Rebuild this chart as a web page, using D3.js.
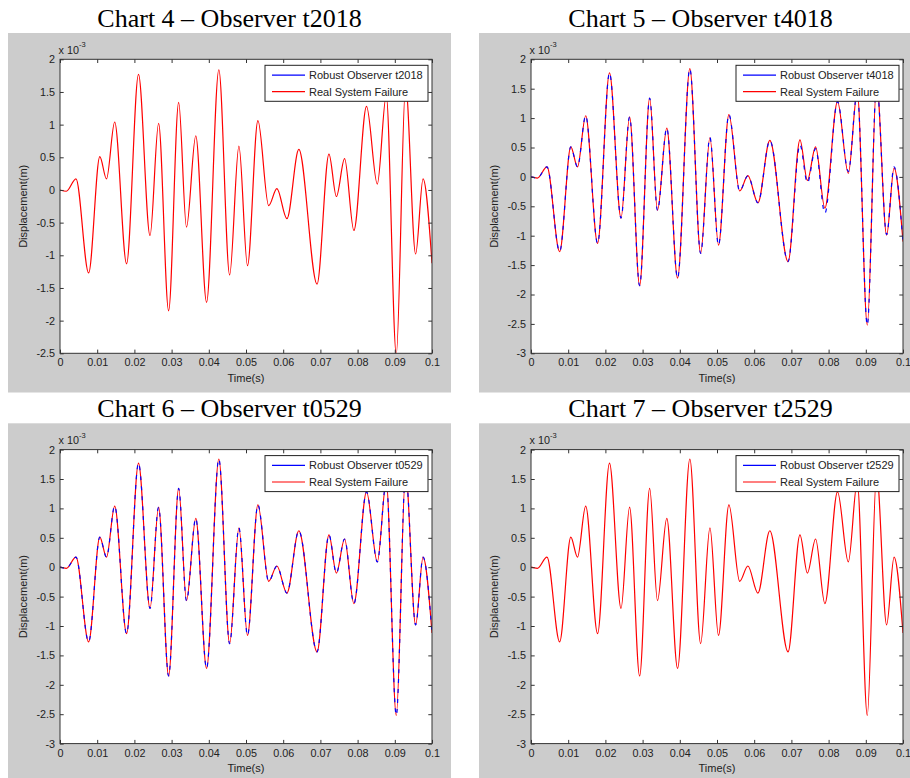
<!DOCTYPE html>
<html>
<head>
<meta charset="utf-8">
<script src="https://cdn.jsdelivr.net/npm/d3@7"></script>
<style>
  body { margin: 0; background: #fff; }
  text { font-family: "Liberation Sans", Arial, sans-serif; fill: #222; }
</style>
</head>
<body>
<script>
// turning points of the response (time in s)
var timeKnots = [0, 0.0017, 0.0043, 0.0077, 0.0107, 0.0125, 0.0147, 0.0179, 0.0211, 0.0242,
  0.0265, 0.0292, 0.0319, 0.0340, 0.0365, 0.0394, 0.0427, 0.0456, 0.0481, 0.0504,
  0.0532, 0.0561, 0.0583, 0.0610, 0.0642, 0.0691, 0.0723, 0.0743, 0.0765, 0.0790,
  0.0824, 0.0853, 0.0877, 0.0904, 0.0929, 0.0956, 0.0976, 0.1000];

// displacement in units of 1e-3 m
var realFailure = [0, -0.02, 0.17, -1.27, 0.51, 0.17, 1.04, -1.13, 1.77, -0.70,
  1.02, -1.85, 1.34, -0.57, 0.83, -1.72, 1.84, -1.30, 0.67, -1.16,
  1.06, -0.24, 0.02, -0.44, 0.62, -1.44, 0.55, -0.10, 0.48, -0.62,
  1.28, 0.09, 1.45, -2.52, 1.60, -0.98, 0.17, -1.12];

// chart 5 real system drifts a little from 0.07 s on
var realFailureT4018 = [0, -0.02, 0.17, -1.27, 0.51, 0.17, 1.04, -1.13, 1.77, -0.70,
  1.02, -1.85, 1.34, -0.57, 0.83, -1.72, 1.84, -1.30, 0.67, -1.16,
  1.06, -0.24, 0.02, -0.44, 0.62, -1.44, 0.63, -0.06, 0.51, -0.53,
  1.28, 0.06, 1.45, -2.52, 1.60, -0.99, 0.15, -1.10];

var robustObserver = [0, -0.02, 0.17, -1.27, 0.51, 0.17, 1.04, -1.13, 1.77, -0.70,
  1.02, -1.85, 1.34, -0.57, 0.83, -1.72, 1.84, -1.30, 0.67, -1.16,
  1.06, -0.24, 0.02, -0.44, 0.62, -1.44, 0.55, -0.10, 0.48, -0.62,
  1.28, 0.09, 1.45, -2.52, 1.60, -0.98, 0.17, -1.12];

var chartTitles = ["Chart 4 \u2013 Observer t2018", "Chart 5 \u2013 Observer t4018",
  "Chart 6 \u2013 Observer t0529", "Chart 7 \u2013 Observer t2529"];
var observerNames = ["Robust Observer t2018", "Robust Observer t4018",
  "Robust Observer t0529", "Robust Observer t2529"];
var realSeries = [realFailure, realFailureT4018, realFailure, realFailure];
var yMins = [-2.5, -3, -3, -3];
var dashedObserver = [false, true, true, false];

var xTicks = [0, 0.01, 0.02, 0.03, 0.04, 0.05, 0.06, 0.07, 0.08, 0.09, 0.1];
var yTicks = [-3, -2.5, -2, -1.5, -1, -0.5, 0, 0.5, 1, 1.5, 2];

var W = 910, H = 778;
var svg = d3.select("body").append("svg").attr("width", W).attr("height", H);

var panelX = [8, 479, 8, 479], panelY = [33, 33, 423.3, 423.3];
var panelW = 443, panelH = 359.5;
var plotW = 372, plotH = 294, tickLen = 3.7;

chartTitles.forEach(function(title, i) {
  var px = panelX[i], py = panelY[i];
  var g = svg.append("g");

  g.append("rect").attr("x", px).attr("y", py).attr("width", panelW).attr("height", panelH)
    .attr("fill", "#cccccc");

  g.append("text").attr("x", px + panelW / 2).attr("y", py - 6.5)
    .attr("text-anchor", "middle")
    .style("font-family", "'Liberation Serif', 'Times New Roman', serif")
    .style("font-size", "26px").style("fill", "#000")
    .text(title);

  var left = px + 52, top = py + 26.3;
  var plot = g.append("g").attr("transform", "translate(" + left + "," + top + ")");

  var x = d3.scaleLinear().domain([0, 0.1]).range([0, plotW]);
  var y = d3.scaleLinear().domain([yMins[i], 2]).range([plotH, 0]);
  var ticksY = yTicks.filter(function(v) { return v >= yMins[i]; });

  plot.append("rect").attr("width", plotW).attr("height", plotH).attr("fill", "#fff");

  var clipId = "clip" + i;
  plot.append("clipPath").attr("id", clipId)
    .append("rect").attr("width", plotW).attr("height", plotH);

  var line = d3.line()
    .x(function(d) { return x(d[0]); })
    .y(function(d) { return y(d[1]); })
    .curve(d3.curveMonotoneX);

  var obsPts = timeKnots.map(function(t, k) { return [t, robustObserver[k]]; });
  var realPts = timeKnots.map(function(t, k) { return [t, realSeries[i][k]]; });
  var lines = plot.append("g").attr("clip-path", "url(#" + clipId + ")");

  if (dashedObserver[i]) {
    lines.append("path").attr("d", line(realPts)).attr("fill", "none")
      .attr("stroke", "#ff0000").attr("stroke-width", 1.2);
    lines.append("path").attr("d", line(obsPts)).attr("fill", "none")
      .attr("stroke", "#0000ff").attr("stroke-width", 1.2).attr("stroke-dasharray", "4,6");
  } else {
    // observer sits exactly under the real curve, fully covered by it
    lines.append("path").attr("d", line(obsPts)).attr("fill", "none")
      .attr("stroke", "#0000ff").attr("stroke-width", 1.2).attr("stroke-opacity", 0);
    lines.append("path").attr("d", line(realPts)).attr("fill", "none")
      .attr("stroke", "#ff0000").attr("stroke-width", 1.2);
  }

  // axes, MATLAB style ticks pointing inward on all four sides
  var fmt = function(d) { return String(d); };
  var axB = plot.append("g").attr("transform", "translate(0," + plotH + ")")
    .call(d3.axisBottom(x).tickValues(xTicks).tickFormat(fmt).tickSizeInner(-tickLen).tickSizeOuter(0).tickPadding(5.5));
  var axT = plot.append("g")
    .call(d3.axisTop(x).tickValues(xTicks).tickFormat("").tickSizeInner(-tickLen).tickSizeOuter(0));
  var axL = plot.append("g")
    .call(d3.axisLeft(y).tickValues(ticksY).tickFormat(fmt).tickSizeInner(-tickLen).tickSizeOuter(0).tickPadding(5));
  var axR = plot.append("g").attr("transform", "translate(" + plotW + ",0)")
    .call(d3.axisRight(y).tickValues(ticksY).tickFormat("").tickSizeInner(-tickLen).tickSizeOuter(0));
  [axB, axT, axL, axR].forEach(function(a) {
    a.select(".domain").remove();
    a.selectAll("line").attr("stroke", "#333");
    a.selectAll("text").style("font-family", "'Liberation Sans', Arial, sans-serif")
      .style("font-size", "10.8px").attr("fill", "#222");
  });

  plot.append("rect").attr("width", plotW).attr("height", plotH)
    .attr("fill", "none").attr("stroke", "#333").attr("stroke-width", 1);

  // legend
  var lx = plotW - 167, ly = 6;
  var leg = plot.append("g").attr("transform", "translate(" + lx + "," + ly + ")");
  leg.append("rect").attr("width", 163).attr("height", 36)
    .attr("fill", "#fff").attr("stroke", "#222").attr("stroke-width", 1);
  var legItems = [[observerNames[i], "#0000ff"], ["Real System Failure", "#ff0000"]];
  legItems.forEach(function(it, k) {
    var yy = 9.8 + k * 16.6;
    leg.append("line").attr("x1", 7).attr("x2", 40).attr("y1", yy).attr("y2", yy)
      .attr("stroke", it[1]).attr("stroke-width", 1.2);
    leg.append("text").attr("x", 44).attr("y", yy).attr("dy", "0.35em")
      .style("font-size", "11px").text(it[0]);
  });

  // axis labels and exponent
  plot.append("text").attr("x", plotW / 2).attr("y", plotH + 28.4)
    .attr("text-anchor", "middle").style("font-size", "11px").text("Time(s)");
  plot.append("text").attr("transform", "translate(" + (px + 19 - left) + "," + (plotH / 2) + ") rotate(-90)")
    .attr("text-anchor", "middle").style("font-size", "11px").text("Displacement(m)");
  var ex = plot.append("text").attr("x", -1.5).attr("y", -5.6).style("font-size", "10.8px");
  ex.append("tspan").text("x 10");
  ex.append("tspan").attr("dy", -6.5).style("font-size", "7.5px").text("-3");
});
</script>
</body>
</html>
